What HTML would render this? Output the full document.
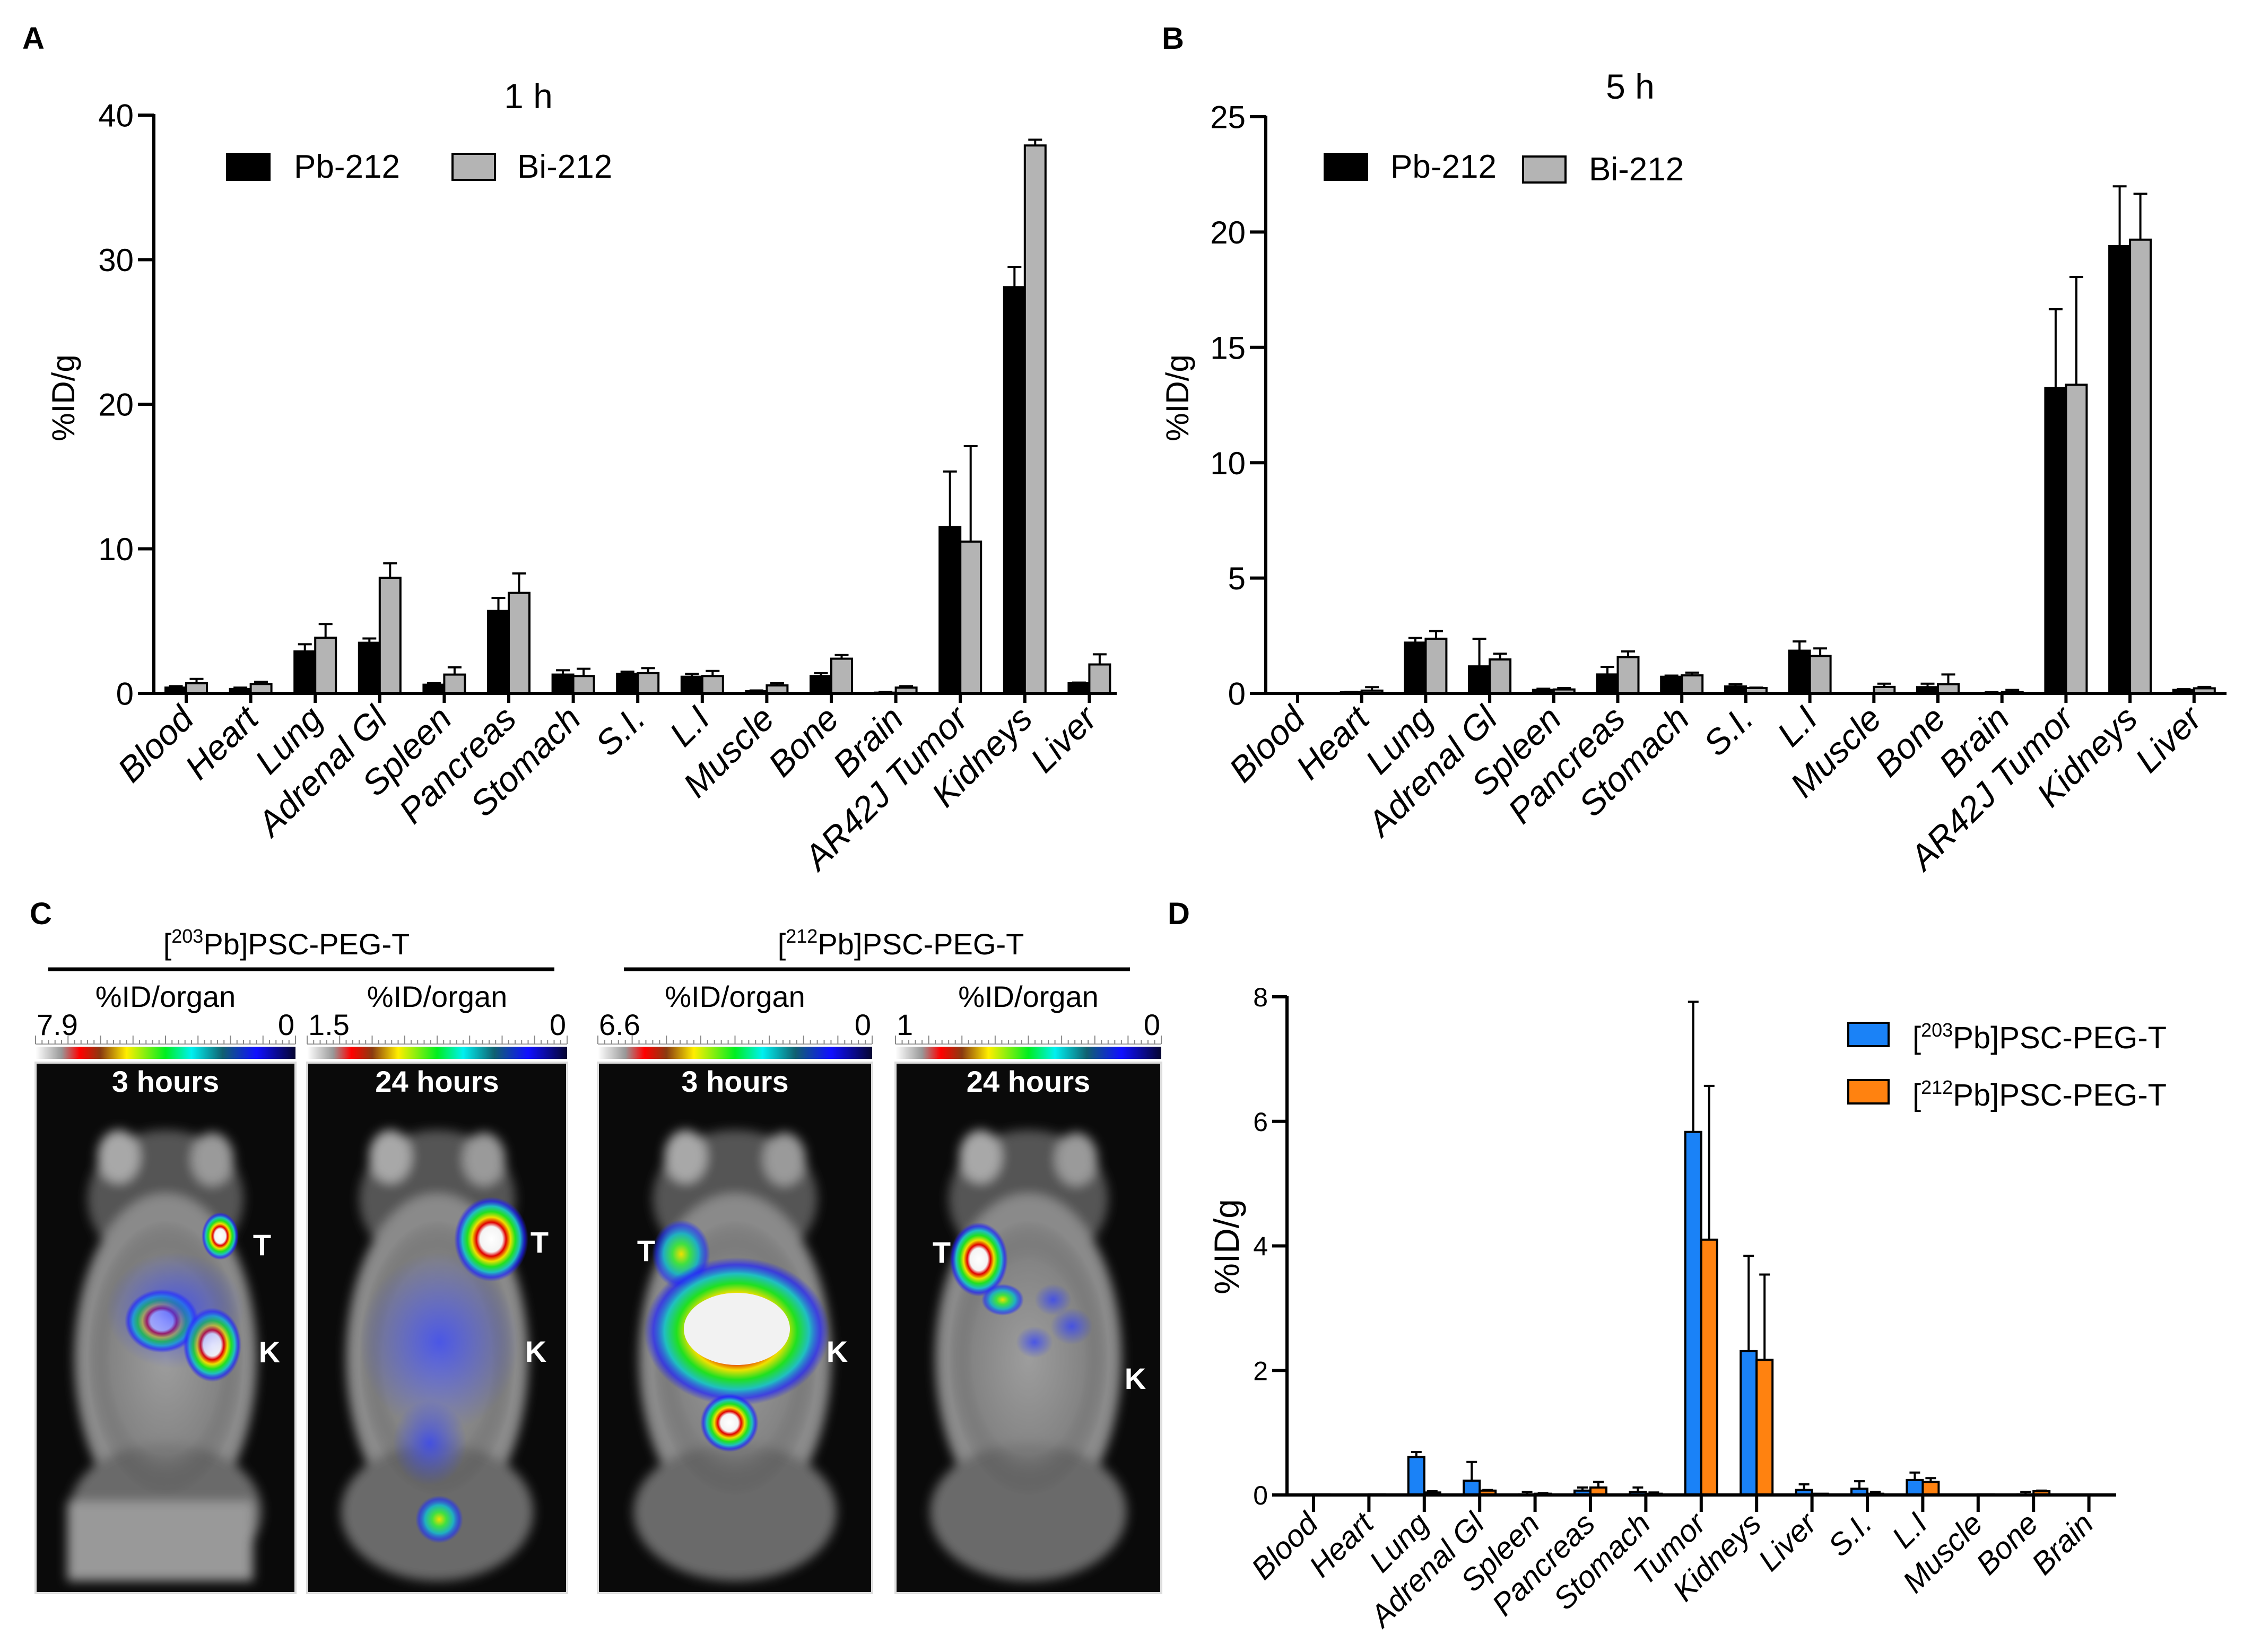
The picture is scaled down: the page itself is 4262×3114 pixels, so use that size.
<!DOCTYPE html>
<html><head><meta charset="utf-8"><style>
html,body{margin:0;padding:0;background:#fff}
svg{display:block}
text{font-family:"Liberation Sans",Arial,sans-serif}
</style></head><body>
<svg id="fig" xmlns="http://www.w3.org/2000/svg" width="4262" height="3114" viewBox="0 0 4262 3114">
<defs>
<linearGradient id="cbar" x1="0" x2="1" y1="0" y2="0">
<stop offset="0" stop-color="#ffffff"/><stop offset="0.1" stop-color="#999"/><stop offset="0.17" stop-color="#ff0000"/><stop offset="0.25" stop-color="#8a3a10"/><stop offset="0.35" stop-color="#ffee00"/><stop offset="0.5" stop-color="#00ee20"/><stop offset="0.6" stop-color="#00f0f0"/><stop offset="0.72" stop-color="#106070"/><stop offset="0.85" stop-color="#1010ff"/><stop offset="1" stop-color="#050530"/>
</linearGradient>
<radialGradient id="hot"><stop offset="0" stop-color="#ffffff"/><stop offset="0.3" stop-color="#f4f4f4"/><stop offset="0.4" stop-color="#e00000"/><stop offset="0.52" stop-color="#f0e000"/><stop offset="0.65" stop-color="#20e020"/><stop offset="0.78" stop-color="#20c0c0"/><stop offset="0.9" stop-color="#2020ff" stop-opacity="0.7"/><stop offset="1" stop-color="#2020ff" stop-opacity="0"/></radialGradient>
<radialGradient id="warm"><stop offset="0" stop-color="#f0e000"/><stop offset="0.3" stop-color="#40e040"/><stop offset="0.6" stop-color="#20b0c0"/><stop offset="0.85" stop-color="#2030ff" stop-opacity="0.6"/><stop offset="1" stop-color="#2030ff" stop-opacity="0"/></radialGradient>
<radialGradient id="cool"><stop offset="0" stop-color="#3040ff" stop-opacity="0.75"/><stop offset="1" stop-color="#3040ff" stop-opacity="0"/></radialGradient>
<radialGradient id="body"><stop offset="0" stop-color="#aaaaaa"/><stop offset="0.7" stop-color="#808080"/><stop offset="1" stop-color="#3a3a3a" stop-opacity="0"/></radialGradient>
<filter id="blur"><feGaussianBlur stdDeviation="10"/></filter>
</defs>
<g id="panelA"></g>
<g id="panelB"></g>
<g id="panelC"></g>
<g id="panelD"></g>
</svg>
<script>
var catsAB = ["Blood","Heart","Lung","Adrenal Gl","Spleen","Pancreas","Stomach","S.I.","L.I","Muscle","Bone","Brain","AR42J Tumor","Kidneys","Liver"];
var pbA = [0.4,0.3,2.9,3.5,0.6,5.7,1.3,1.35,1.15,0.15,1.2,0.05,11.5,28.1,0.7];
var pbSdA = [0.1,0.1,0.5,0.3,0.1,0.9,0.3,0.15,0.2,0.05,0.2,0.05,3.85,1.4,0.05];
var biA = [0.7,0.65,3.85,8.0,1.3,6.95,1.2,1.4,1.2,0.55,2.4,0.4,10.5,37.9,2.0];
var biSdA = [0.3,0.15,0.95,1.0,0.5,1.35,0.5,0.35,0.35,0.15,0.25,0.1,6.6,0.4,0.7];
var ticksA = [0,10,20,30,40];
var pbB = [0.02,0.05,2.2,1.17,0.15,0.82,0.72,0.3,1.85,0,0.27,0.02,13.24,19.39,0.15];
var pbSdB = [0,0.02,0.2,1.2,0.05,0.33,0.05,0.1,0.4,0,0.15,0.03,3.41,2.59,0.03];
var biB = [0,0.12,2.37,1.47,0.17,1.57,0.78,0.23,1.62,0.28,0.4,0.05,13.38,19.67,0.22];
var biSdB = [0,0.15,0.33,0.25,0.06,0.25,0.12,0.02,0.33,0.14,0.42,0.1,4.67,1.99,0.06];
var ticksB = [0,5,10,15,20,25];
var catsD = ["Blood","Heart","Lung","Adrenal Gl","Spleen","Pancreas","Stomach","Tumor","Kidneys","Liver","S.I.","L.I","Muscle","Bone","Brain"];
var pb203D = [0,0,0.61,0.23,0.01,0.07,0.05,5.83,2.31,0.08,0.1,0.24,0,0.01,0];
var pb203SdD = [0,0,0.08,0.3,0.04,0.05,0.07,2.09,1.53,0.09,0.12,0.12,0,0.04,0];
var pb212D = [0.01,0.01,0.04,0.07,0.02,0.12,0.02,4.1,2.17,0.02,0.02,0.21,0.01,0.06,0];
var pb212SdD = [0,0,0.02,0.01,0.01,0.09,0.02,2.47,1.37,0,0.03,0.06,0,0.01,0];
var ticksD = [0,2,4,6,8];

var NS = "http://www.w3.org/2000/svg";
function mk(parent, tag, attrs, txt) {
  var e = document.createElementNS(NS, tag);
  for (var k in attrs) e.setAttribute(k, attrs[k]);
  if (txt !== undefined) e.textContent = txt;
  parent.appendChild(e);
  return e;
}

function drawChart(g, c) {
  var ys = function (v) { return c.y0 - (v / c.max) * (c.y0 - c.yTop); };
  var xs = function (i) { return c.first + i * c.step; };
  for (var s = 0; s < 2; s++) {
    var vals = c.series[s], sds = c.sds[s];
    for (var i = 0; i < vals.length; i++) {
      var x = s === 0 ? xs(i) - c.bw : xs(i);
      var yt = ys(vals[i]);
      var yerr = ys(vals[i] + sds[i]);
      var cx = x + c.bw / 2;
      if (sds[i] > 0) {
        var el = mk(g, "line", {x1: cx, x2: cx, y1: yt, y2: yerr, stroke: "#000", "stroke-width": 4});
        
        
        var cap = mk(g, "line", {x1: cx - c.cap, x2: cx + c.cap, y1: yerr, y2: yerr, stroke: "#000", "stroke-width": 4});
        
        
      }
      var r = mk(g, "rect", {x: x, y: yt, width: c.bw, height: Math.max(0, c.y0 - yt), fill: c.colors[s], stroke: "#000", "stroke-width": 4});
      
      
    }
  }
  var ya = mk(g, "line", {x1: c.x0, x2: c.x0, y1: c.yTop - 2, y2: c.y0 + 2, stroke: "#000", "stroke-width": 6});
  
  
  var xa = mk(g, "line", {x1: c.x0 - 3, x2: c.xEnd, y1: c.y0, y2: c.y0, stroke: "#000", "stroke-width": 6});
  
  
  for (var t = 0; t < c.ticks.length; t++) {
    var ty = ys(c.ticks[t]);
    var tl = mk(g, "line", {x1: c.x0 - c.tickLen, x2: c.x0, y1: ty, y2: ty, stroke: "#000", "stroke-width": 6});
    
    
    var tt = mk(g, "text", {x: c.x0 - c.tickLen - 8, y: ty + c.tickFont * 0.36, "font-size": c.tickFont, "text-anchor": "end"}, String(c.ticks[t]));
    
    
  }
  for (var i2 = 0; i2 < c.cats.length; i2++) {
    var tx = xs(i2);
    var xt = mk(g, "line", {x1: tx, x2: tx, y1: c.y0, y2: c.y0 + c.xTickLen, stroke: "#000", "stroke-width": 6});
    
    
    var lx = tx + c.labDx, ly = c.y0 + c.labDy;
    var lt = mk(g, "text", {x: lx, y: ly, "font-size": c.catFont, "font-style": "italic", "text-anchor": "end", transform: "rotate(-45 " + lx + " " + ly + ")"}, c.cats[i2]);
    
    
  }
  var yl = mk(g, "text", {x: c.ylx, y: c.yly, "font-size": c.ylFont, "text-anchor": "middle", transform: "rotate(-90 " + c.ylx + " " + c.yly + ")"}, "%ID/g");
  
  
}

var gA = document.getElementById("panelA");
mk(gA, "text", {x: 42, y: 92, "font-size": 58, "font-weight": "bold"}, "A");
mk(gA, "text", {x: 996, y: 204, "font-size": 66, "text-anchor": "middle"}, "1 h");
drawChart(gA, {x0: 290, xEnd: 2105, y0: 1307, yTop: 217, max: 40, first: 351, step: 121.6, bw: 39, cap: 13,
  series: [pbA, biA], sds: [pbSdA, biSdA], colors: ["#000", "#b4b4b4"], names: ["pb212", "bi212"], cats: catsAB,
  ticks: ticksA, tickLen: 30, tickFont: 60, xTickLen: 18, labDx: 18, labDy: 52, catFont: 66, ylx: 140, yly: 750, ylFont: 60});
var legA = [[428, 290, "#000", 554, "Pb-212"], [853, 290, "#b4b4b4", 975, "Bi-212"]];
legA.forEach(function (l) {
  var r = mk(gA, "rect", {x: l[0], y: l[1], width: 80, height: 49, fill: l[2], stroke: "#000", "stroke-width": 4});
  
  
  var t = mk(gA, "text", {x: l[3], y: l[1] + 45, "font-size": 62}, l[4]);
  
  
});

var gB = document.getElementById("panelB");
mk(gB, "text", {x: 2190, y: 92, "font-size": 58, "font-weight": "bold"}, "B");
mk(gB, "text", {x: 3073, y: 186, "font-size": 66, "text-anchor": "middle"}, "5 h");
drawChart(gB, {x0: 2386, xEnd: 4197, y0: 1307, yTop: 220, max: 25, first: 2446, step: 120.7, bw: 39, cap: 13,
  series: [pbB, biB], sds: [pbSdB, biSdB], colors: ["#000", "#b4b4b4"], names: ["pb212", "bi212"], cats: catsAB,
  ticks: ticksB, tickLen: 30, tickFont: 60, xTickLen: 18, labDx: 18, labDy: 52, catFont: 66, ylx: 2240, yly: 750, ylFont: 60});
var legB = [[2497, 290, "#000", 2621, "Pb-212"], [2871, 295, "#b4b4b4", 2995, "Bi-212"]];
legB.forEach(function (l) {
  var r = mk(gB, "rect", {x: l[0], y: l[1], width: 80, height: 49, fill: l[2], stroke: "#000", "stroke-width": 4});
  
  
  var t = mk(gB, "text", {x: l[3], y: l[1] + 45, "font-size": 62}, l[4]);
  
  
});

var gD = document.getElementById("panelD");
mk(gD, "text", {x: 2201, y: 1742, "font-size": 58, "font-weight": "bold"}, "D");
drawChart(gD, {x0: 2426, xEnd: 3989, y0: 2818, yTop: 1879, max: 8, first: 2476, step: 104.4, bw: 30, cap: 10,
  series: [pb203D, pb212D], sds: [pb203SdD, pb212SdD], colors: ["#1a82f7", "#ff8210"], names: ["pb203", "pb212"], cats: catsD,
  ticks: ticksD, tickLen: 28, tickFont: 50, xTickLen: 32, labDx: 12, labDy: 58, catFont: 58, ylx: 2335, yly: 2350, ylFont: 66});
var legD = [[3484, 1928, "#1a82f7", "203"], [3484, 2036, "#ff8210", "212"]];
legD.forEach(function (l) {
  var r = mk(gD, "rect", {x: l[0], y: l[1], width: 76, height: 44, fill: l[2], stroke: "#000", "stroke-width": 4});
  
  
  var t = mk(gD, "text", {x: 3605, y: l[1] + 48, "font-size": 58}, "");
  
  
  mk(t, "tspan", {}, "[");
  mk(t, "tspan", {"font-size": 36, dy: -22}, l[3]);
  mk(t, "tspan", {dy: 22}, "Pb]PSC-PEG-T");
});

var gC = document.getElementById("panelC");
mk(gC, "text", {x: 56, y: 1742, "font-size": 58, "font-weight": "bold"}, "C");
[[540, "203", 91, 1045], [1698, "212", 1176, 2130]].forEach(function (h) {
  var t = mk(gC, "text", {x: h[0], y: 1799, "font-size": 56, "text-anchor": "middle"}, "");
  
  
  mk(t, "tspan", {}, "[");
  mk(t, "tspan", {"font-size": 36, dy: -22}, h[1]);
  mk(t, "tspan", {dy: 22}, "Pb]PSC-PEG-T");
  var ln = mk(gC, "line", {x1: h[2], x2: h[3], y1: 1827, y2: 1827, stroke: "#000", "stroke-width": 7});
  
  
});
var imgs = [
  {x: 67, w: 490, max: "7.9", time: "3 hours", T: [494, 2346], K: [508, 2548]},
  {x: 579, w: 490, max: "1.5", time: "24 hours", T: [1017, 2341], K: [1010, 2547]},
  {x: 1127, w: 517, max: "6.6", time: "3 hours", T: [1218, 2357], K: [1578, 2547]},
  {x: 1688, w: 501, max: "1", time: "24 hours", T: [1775, 2360], K: [2140, 2598]}
];
imgs.forEach(function (m, idx) {
  var g = mk(gC, "g", {});
  
  
  var cx = m.x + m.w / 2;
  mk(g, "text", {x: cx, y: 1898, "font-size": 56, "text-anchor": "middle"}, "%ID/organ");
  mk(g, "text", {x: m.x + 2, y: 1951, "font-size": 56}, m.max);
  mk(g, "text", {x: m.x + m.w - 2, y: 1951, "font-size": 56, "text-anchor": "end"}, "0");
  mk(g, "line", {x1: m.x, x2: m.x + m.w, y1: 1968, y2: 1968, stroke: "#999", "stroke-width": 2});
  for (var k = 0; k <= 40; k++) {
    mk(g, "line", {x1: m.x + k * m.w / 40, x2: m.x + k * m.w / 40, y1: k % 5 === 0 ? 1952 : 1960, y2: 1968, stroke: "#888", "stroke-width": 2});
  }
  mk(g, "rect", {x: m.x, y: 1973, width: m.w, height: 23, fill: "url(#cbar)"});
  mk(g, "rect", {x: m.x, y: 2003, width: m.w, height: 1000, fill: "#0a0a0a", stroke: "#ddd", "stroke-width": 4});
  var bg = mk(g, "g", {filter: "url(#blur)"});
  mk(bg, "ellipse", {cx: cx, cy: 2260, rx: m.w * 0.3, ry: 130, fill: "#555"});
  mk(bg, "ellipse", {cx: cx - m.w * 0.18, cy: 2180, rx: 40, ry: 50, fill: "#a8a8a8"});
  mk(bg, "ellipse", {cx: cx + m.w * 0.18, cy: 2185, rx: 40, ry: 50, fill: "#9a9a9a"});
  mk(bg, "ellipse", {cx: cx, cy: 2560, rx: m.w * 0.35, ry: 310, fill: "#8a8a8a"});
  mk(bg, "ellipse", {cx: cx, cy: 2850, rx: m.w * 0.37, ry: 130, fill: "#6a6a6a"});
  if (idx === 0) mk(bg, "rect", {x: m.x + 60, y: 2830, width: m.w - 140, height: 150, fill: "#999"});
  mk(g, "ellipse", {cx: cx, cy: 2560, rx: m.w * 0.3, ry: 260, fill: "url(#body)", opacity: 0.6});
  mk(g, "text", {x: cx, y: 2058, "font-size": 56, "font-weight": "bold", fill: "#fff", "text-anchor": "middle"}, m.time);
  if (idx === 0) {
    mk(g, "ellipse", {cx: 415, cy: 2330, rx: 35, ry: 45, fill: "url(#hot)"});
    mk(g, "ellipse", {cx: 305, cy: 2490, rx: 70, ry: 60, fill: "url(#hot)"});
    mk(g, "ellipse", {cx: 400, cy: 2535, rx: 55, ry: 70, fill: "url(#hot)"});
    mk(g, "ellipse", {cx: 330, cy: 2470, rx: 130, ry: 110, fill: "url(#cool)"});
  } else if (idx === 1) {
    mk(g, "ellipse", {cx: 926, cy: 2336, rx: 70, ry: 80, fill: "url(#hot)"});
    mk(g, "ellipse", {cx: 828, cy: 2530, rx: 150, ry: 170, fill: "url(#cool)"});
    mk(g, "ellipse", {cx: 810, cy: 2720, rx: 70, ry: 80, fill: "url(#cool)"});
    mk(g, "ellipse", {cx: 828, cy: 2864, rx: 45, ry: 45, fill: "url(#warm)"});
  } else if (idx === 2) {
    mk(g, "ellipse", {cx: 1284, cy: 2364, rx: 55, ry: 65, fill: "url(#warm)"});
    mk(g, "ellipse", {cx: 1389, cy: 2510, rx: 175, ry: 140, fill: "url(#hot)"});
    mk(g, "ellipse", {cx: 1389, cy: 2505, rx: 100, ry: 68, fill: "#f2f2f2"});
    mk(g, "ellipse", {cx: 1375, cy: 2682, rx: 55, ry: 55, fill: "url(#hot)"});
  } else {
    mk(g, "ellipse", {cx: 1845, cy: 2374, rx: 55, ry: 70, fill: "url(#hot)"});
    mk(g, "ellipse", {cx: 1890, cy: 2450, rx: 40, ry: 30, fill: "url(#warm)"});
    mk(g, "ellipse", {cx: 1985, cy: 2450, rx: 35, ry: 30, fill: "url(#cool)"});
    mk(g, "ellipse", {cx: 2020, cy: 2500, rx: 40, ry: 35, fill: "url(#cool)"});
    mk(g, "ellipse", {cx: 1950, cy: 2530, rx: 35, ry: 30, fill: "url(#cool)"});
  }
  mk(g, "text", {x: m.T[0], y: m.T[1] + 20, "font-size": 56, "font-weight": "bold", fill: "#fff", "text-anchor": "middle"}, "T");
  mk(g, "text", {x: m.K[0], y: m.K[1] + 20, "font-size": 56, "font-weight": "bold", fill: "#fff", "text-anchor": "middle"}, "K");
});
</script>
</body></html>
